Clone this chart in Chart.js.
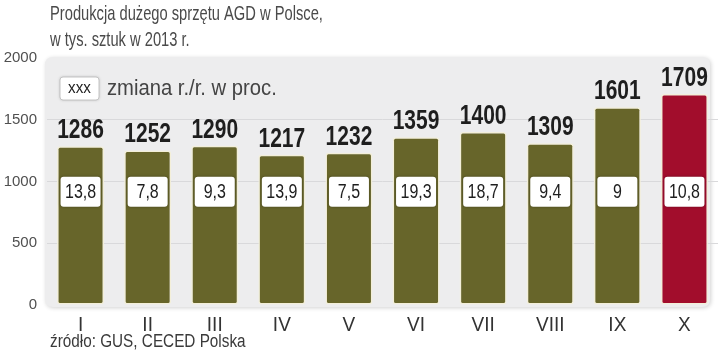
<!DOCTYPE html>
<html><head><meta charset="utf-8">
<script src="https://cdn.jsdelivr.net/npm/chart.js@4"></script>
<style>html,body{margin:0;padding:0;background:#fff}#wrap{width:720px;height:352px;position:relative}</style>
</head><body><div id="wrap"><canvas id="c" width="720" height="352"></canvas></div>
<script>
const months = ['I','II','III','IV','V','VI','VII','VIII','IX','X'];
const production = [1286,1252,1290,1217,1232,1359,1400,1309,1601,1709];
const changeYoY = ['13,8','7,8','9,3','13,9','7,5','19,3','18,7','9,4','9','10,8'];
const yTicks = [0,500,1000,1500,2000];
const titleLines = ['Produkcja dużego sprzętu AGD w Polsce,','w tys. sztuk w 2013 r.'];
const legendText = 'zmiana r./r. w proc.';
const sourceText = 'źródło: GUS, CECED Polska';
const changeLabelLevel = 918;

const OLIVE = '#67652a', RED = '#a20d2c';
const FAM = "'Liberation Sans', Arial, sans-serif";

function rr(ctx,x,y,w,h,r){ctx.beginPath();ctx.moveTo(x+r,y);ctx.lineTo(x+w-r,y);ctx.quadraticCurveTo(x+w,y,x+w,y+r);ctx.lineTo(x+w,y+h-r);ctx.quadraticCurveTo(x+w,y+h,x+w-r,y+h);ctx.lineTo(x+r,y+h);ctx.quadraticCurveTo(x,y+h,x,y+h-r);ctx.lineTo(x,y+r);ctx.quadraticCurveTo(x,y,x+r,y);ctx.closePath();}
function txt(ctx,s,x,y,font,sx,align,base,color){
  ctx.save();ctx.translate(x,y);ctx.scale(sx,1);
  ctx.font=font;ctx.textAlign=align;ctx.textBaseline=base;ctx.fillStyle=color;
  ctx.fillText(s,0,0);ctx.restore();
}

const deco = {
  id:'deco',
  beforeDraw(chart){
    const {ctx, chartArea:a} = chart;
    ctx.save();
    ctx.shadowColor='rgba(0,0,0,0.18)';ctx.shadowBlur=4;ctx.shadowOffsetX=1;ctx.shadowOffsetY=1;
    rr(ctx,a.left-2,a.top-1,a.right-a.left-6,a.bottom-a.top+3,8);
    ctx.fillStyle='#ededee';ctx.fill();
    ctx.restore();
    txt(ctx,titleLines[0],50,20,"21px "+FAM,0.7,'left','alphabetic','#4a4a4a');
    txt(ctx,titleLines[1],50,46,"21px "+FAM,0.7,'left','alphabetic','#4a4a4a');
    txt(ctx,sourceText,50,347,"18px "+FAM,0.85,'left','alphabetic','#3a3a3a');
    const xs = chart.scales.x;
    months.forEach((m,i)=>{
      txt(ctx,m,xs.getPixelForValue(i),a.bottom+26,"20px "+FAM,0.95,'center','alphabetic','#333');
    });
  },
  afterDatasetsDraw(chart){
    const {ctx} = chart;
    const meta = chart.getDatasetMeta(0);
    const ys = chart.scales.y;
    ctx.save();
    ctx.shadowColor='rgba(0,0,0,0.25)';ctx.shadowBlur=3;
    rr(ctx,60,77,39,23,3);ctx.fillStyle='#fff';ctx.fill();
    ctx.restore();
    ctx.save();rr(ctx,60,77,39,23,3);ctx.strokeStyle='#c4c4c4';ctx.lineWidth=1;ctx.stroke();ctx.restore();
    txt(ctx,'xxx',79.5,89,"16px "+FAM,0.95,'center','middle','#222');
    txt(ctx,legendText,107,89,"22px "+FAM,0.92,'left','middle','#444');
    meta.data.forEach((bar,i)=>{
      txt(ctx,String(production[i]),bar.x,bar.y-8,"bold 28px "+FAM,0.75,'center','alphabetic','#1e1e1e');
      const cy = ys.getPixelForValue(changeLabelLevel);
      ctx.save();
      ctx.shadowColor='rgba(0,0,0,0.35)';ctx.shadowBlur=3;
      rr(ctx,bar.x-20,cy-15,40,30,3);ctx.fillStyle='#fff';ctx.fill();
      ctx.restore();
      txt(ctx,changeYoY[i],bar.x,cy+1,"20px "+FAM,0.8,'center','middle','#1e1e1e');
    });
  }
};

new Chart(document.getElementById('c'),{
  type:'bar',
  data:{labels:months,datasets:[{
    data:production,
    backgroundColor:production.map((v,i)=>i===production.length-1?RED:OLIVE),
    borderColor:'#f3efd9',borderWidth:1.5,borderRadius:3,borderSkipped:false,
    barPercentage:0.7,categoryPercentage:1
  }]},
  options:{
    responsive:false,animation:false,
    layout:{padding:{top:58,right:2,bottom:39,left:0}},
    plugins:{legend:{display:false},tooltip:{enabled:false}},
    scales:{
      x:{offset:true,grid:{display:false},border:{display:false},ticks:{display:false}},
      y:{min:0,max:2000,afterFit(s){s.width=47;},
        afterBuildTicks(s){s.ticks=yTicks.map(v=>({value:v}));},
        border:{display:false},
        grid:{drawTicks:false,color:c=>(c.tick&&c.tick.value>0&&c.tick.value<2000)?'#d9d9db':'rgba(0,0,0,0)',lineWidth:1},
        ticks:{color:'#505050',font:{family:FAM,size:15},padding:10,callback:v=>String(v)}}
    }
  },
  plugins:[deco]
});
</script></body></html>
